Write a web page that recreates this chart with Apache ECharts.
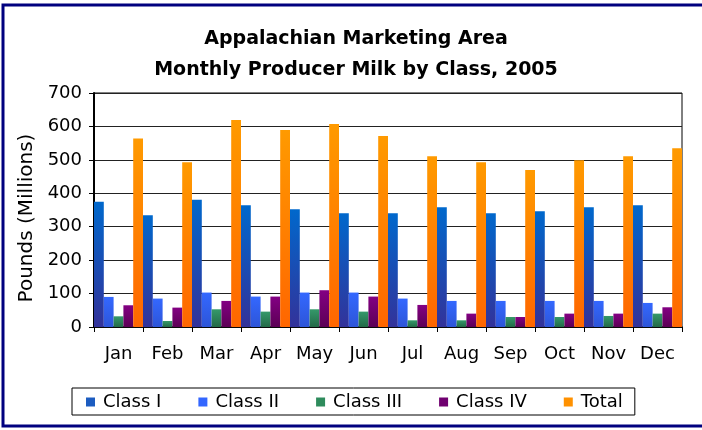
<!DOCTYPE html>
<html>
<head>
<meta charset="utf-8">
<script src="https://cdn.jsdelivr.net/npm/echarts@6/dist/echarts.min.js"></script>
<style>
  html, body { margin: 0; padding: 0; background: #fff; }
  #chart { width: 702px; height: 430px; }
</style>
</head>
<body>
<div id="chart"></div>
<script>
// months on the x axis
const months = ['Jan', 'Feb', 'Mar', 'Apr', 'May', 'Jun', 'Jul', 'Aug', 'Sep', 'Oct', 'Nov', 'Dec']
// pounds (millions)
const classI = [375, 334, 381, 364, 352, 340, 340, 358, 340, 346, 358, 364]
const classII = [90, 85, 103, 91, 103, 103, 85, 78, 78, 78, 78, 72]
const classIII = [32, 18, 53, 46, 53, 46, 20, 20, 30, 30, 33, 40]
const classIV = [65, 58, 78, 91, 110, 91, 66, 40, 30, 40, 40, 59]
const total = [564, 493, 619, 589, 607, 571, 511, 493, 470, 499, 511, 535]
const yTicks = [0, 100, 200, 300, 400, 500, 600, 700]

const font = '"DejaVu Sans", sans-serif'

function grad(top, bottom) {
  return new echarts.graphic.LinearGradient(0, 0, 0, 1, [
    { offset: 0, color: top },
    { offset: 1, color: bottom }
  ])
}

const seriesDefs = [
  { name: 'Class I', data: classI, top: '#0068cc', bottom: '#33329a', legend: '#1c5cc0' },
  { name: 'Class II', data: classII, top: '#3468ff', bottom: '#2d55d8', legend: '#3366ff' },
  { name: 'Class III', data: classIII, top: '#35996a', bottom: '#236a48', legend: '#2e8b5c' },
  { name: 'Class IV', data: classIV, top: '#830083', bottom: '#5c0055', legend: '#700070' },
  { name: 'Total', data: total, top: '#ff9a00', bottom: '#ff6600', legend: '#ff9100' }
]

const myChart = echarts.init(document.getElementById('chart'), null, { renderer: 'canvas' })
myChart.setOption({
  animation: false,
  textStyle: { fontFamily: font },
  title: {
    text: 'Appalachian Marketing Area\nMonthly Producer Milk by Class, 2005',
    left: 351,
    textAlign: 'center',
    top: 19,
    textStyle: { fontSize: 19, fontWeight: 'bold', color: '#000', lineHeight: 31, fontFamily: font }
  },
  graphic: [
    {
      type: 'rect',
      shape: { x: 3, y: 5, width: 800, height: 421 },
      style: { fill: 'none', stroke: '#00007f', lineWidth: 3 },
      silent: true
    }
  ],
  legend: {
    left: 72,
    top: 388,
    padding: [5, 12, 4, 14],
    borderColor: '#000',
    borderWidth: 1,
    itemWidth: 9,
    itemHeight: 9,
    itemGap: 37,
    icon: 'rect',
    textStyle: { fontSize: 18, color: '#000', fontFamily: font, padding: [0, 0, 0, 3] },
    data: seriesDefs.map(s => ({ name: s.name, itemStyle: { color: s.legend } }))
  },
  grid: {
    left: 94,
    right: 20,
    top: 93,
    bottom: 103,
    show: true,
    borderColor: '#000',
    borderWidth: 1
  },
  xAxis: {
    type: 'category',
    data: months,
    axisLine: { lineStyle: { color: '#000', width: 1.5 } },
    axisTick: { show: true, length: 5, lineStyle: { color: '#000' } },
    axisLabel: { fontSize: 18, color: '#000', margin: 18, fontFamily: font }
  },
  yAxis: {
    type: 'value',
    min: yTicks[0],
    max: yTicks[yTicks.length - 1],
    interval: 100,
    name: 'Pounds (Millions)',
    nameLocation: 'middle',
    nameRotate: 90,
    nameGap: 57,
    nameTextStyle: { fontSize: 20, color: '#000', fontFamily: font, padding: [0, 16, 0, 0] },
    axisLine: { show: true, lineStyle: { color: '#000', width: 2 } },
    axisTick: { show: true, length: 5, lineStyle: { color: '#000' } },
    axisLabel: { fontSize: 18, color: '#000', margin: 12, fontFamily: font },
    splitLine: { lineStyle: { color: '#222', width: 1 } }
  },
  series: seriesDefs.map(s => ({
    name: s.name,
    type: 'bar',
    data: s.data,
    barGap: '0%',
    barCategoryGap: '0%',
    itemStyle: { color: grad(s.top, s.bottom) }
  }))
})
</script>
</body>
</html>
